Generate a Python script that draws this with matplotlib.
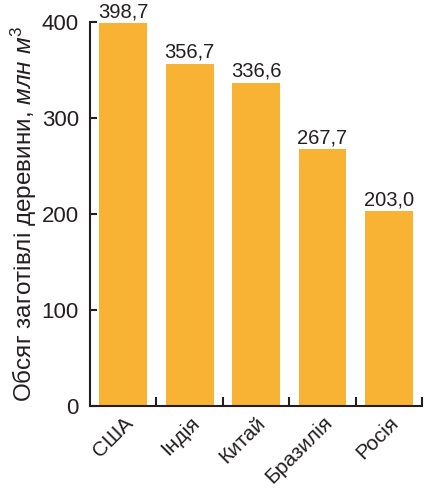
import matplotlib
matplotlib.use("Agg")
import matplotlib.pyplot as plt
from matplotlib.ticker import FixedLocator

# дані
countries = ["США", "Індія", "Китай", "Бразилія", "Росія"]
volumes = [398.7, 356.7, 336.6, 267.7, 203.0]
value_labels = ["398,7", "356,7", "336,6", "267,7", "203,0"]
y_ticks = [0, 100, 200, 300, 400]

plt.rcParams["font.family"] = ["Liberation Sans", "DejaVu Sans"]
plt.rcParams["mathtext.fontset"] = "custom"
plt.rcParams["mathtext.rm"] = "Liberation Sans"
plt.rcParams["mathtext.it"] = "Liberation Sans:italic"

dark = "#231f20"
bar_color = "#F9B334"

fig = plt.figure(figsize=(4.28, 4.94), dpi=100)
ax = fig.add_axes([0.2103, 0.178, 0.7757, 0.7775])

x = range(len(countries))
ax.bar(x, volumes, width=0.72, color=bar_color)

for i, v in enumerate(volumes):
    ax.text(i, v + 2, value_labels[i], ha="center", va="bottom",
            fontsize=14.5, color=dark)

ax.set_xlim(-0.5, len(countries) - 0.5)
ax.set_ylim(0, 400)

ax.spines["top"].set_visible(False)
ax.spines["right"].set_visible(False)
for s in ("left", "bottom"):
    ax.spines[s].set_linewidth(1.5)
    ax.spines[s].set_color(dark)

ax.set_yticks(y_ticks)
ax.tick_params(axis="y", direction="in", length=5, width=1.5, color=dark,
               labelsize=16, labelcolor=dark, pad=8)

ax.set_xticks(list(x))
ax.set_xticklabels(countries, rotation=45, ha="right", rotation_mode="anchor",
                   fontsize=15, color=dark)
ax.tick_params(axis="x", which="major", length=0, pad=5)
ax.xaxis.set_minor_locator(FixedLocator([i + 0.5 for i in range(len(countries))]))
ax.tick_params(axis="x", which="minor", direction="in", length=6.5,
               width=1.5, color=dark)

ax.set_ylabel("Обсяг заготівлі деревини, $\\mathit{млн\\ м^3}$",
              fontsize=17.5, color=dark, labelpad=2)

fig.savefig("out.png", dpi=100)
